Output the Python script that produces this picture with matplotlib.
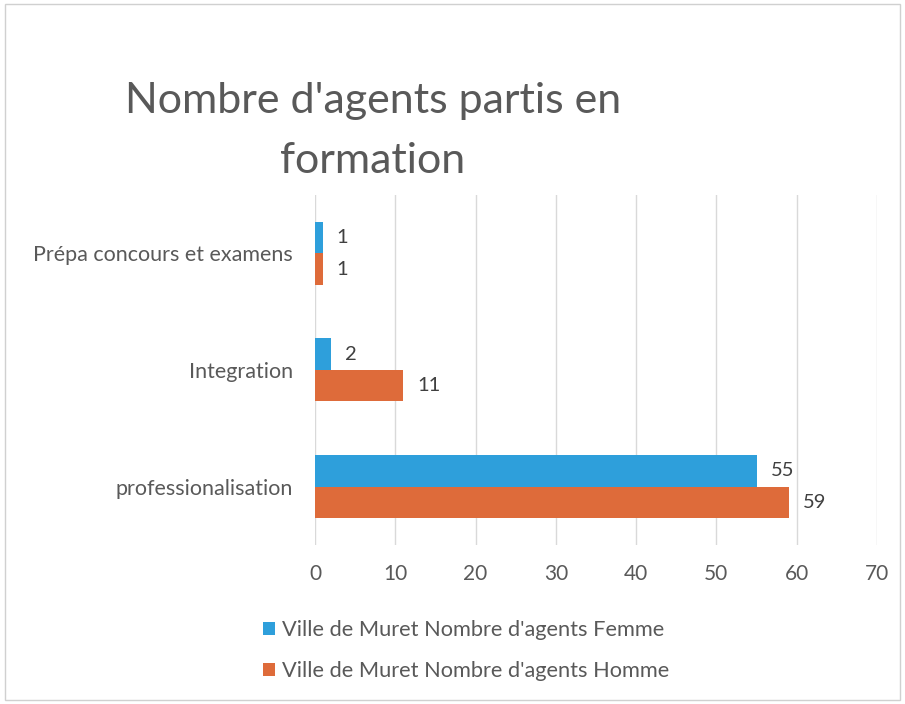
import matplotlib.pyplot as plt
import numpy as np

# données
categories = ["Prépa concours et examens", "Integration", "professionalisation"]
femme = [1, 2, 55]
homme = [1, 11, 59]
labels = ["Ville de Muret Nombre d'agents Femme", "Ville de Muret Nombre d'agents Homme"]
xticks = [0, 10, 20, 30, 40, 50, 60, 70]

plt.rcParams['font.family'] = ['Lato', 'DejaVu Sans']
gris = '#595959'
bleu = '#2E9FDB'
orange = '#DE6B3A'

fig = plt.figure(figsize=(9.05, 7.04), dpi=100)
ax = fig.add_axes([0.348, 0.226, 0.621, 0.497])

y = np.arange(len(categories))
h = 0.27
b1 = ax.barh(y - h / 2, femme, height=h, color=bleu, label=labels[0])
b2 = ax.barh(y + h / 2, homme, height=h, color=orange, label=labels[1])

# étiquettes de valeurs
for bars, vals in [(b1, femme), (b2, homme)]:
    for bar, v in zip(bars, vals):
        ax.annotate(str(v), (bar.get_width(), bar.get_y() + bar.get_height() / 2),
                    xytext=(10, 0), textcoords='offset points', va='center', ha='left',
                    fontsize=14.5, color='#404040')

ax.set_ylim(2.5, -0.5)
ax.set_xlim(0, 70)
ax.set_xticks(xticks)
ax.set_yticks(y)
ax.set_yticklabels(categories)
ax.tick_params(axis='both', length=0, colors=gris, labelsize=15)
ax.tick_params(axis='y', labelsize=15.5, pad=16)
ax.tick_params(axis='x', pad=14)
ax.grid(axis='x', color='#d9d9d9', linewidth=1)
ax.set_axisbelow(True)
for s in ax.spines.values():
    s.set_visible(False)

fig.text(0.412, 0.857, "Nombre d'agents partis en", ha='center', va='center',
         fontsize=31, color=gris)
fig.text(0.412, 0.772, "formation", ha='center', va='center', fontsize=31, color=gris)

fig.legend(handles=[b1, b2], loc='center left', bbox_to_anchor=(0.291, 0.076),
           frameon=False, fontsize=15.7, labelcolor=gris, handlelength=0.55,
           handleheight=0.55, handletextpad=0.3, labelspacing=0.95, borderaxespad=0,
           borderpad=0)

# bordure
fig.patches.append(plt.Rectangle((0.005, 0.005), 0.99, 0.99, transform=fig.transFigure,
                                 fill=False, edgecolor='#d0d0d0', linewidth=1))

fig.savefig('out.png', dpi=100)
